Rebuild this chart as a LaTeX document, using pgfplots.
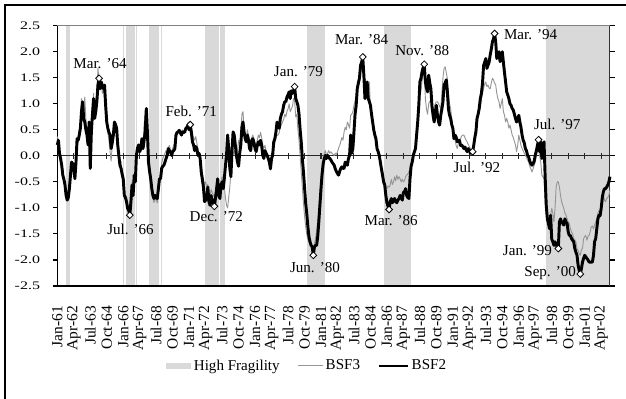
\documentclass[border=0pt]{standalone}
\usepackage{pgfplots}
\pgfplotsset{compat=1.18}
\usepackage{fontspec}
\setmainfont{Liberation Serif}
\definecolor{hfgray}{RGB}{217,217,217}
\definecolor{bsfthree}{RGB}{150,150,150}
\begin{document}
\begin{tikzpicture}
\path[use as bounding box] (0,0) rectangle (469.5pt,299.25pt);
\draw[line width=1.1pt] (3.75pt,-5pt) -- (3.75pt,295.5pt) -- (480pt,295.5pt);
\begin{axis}[
  at={(42.98pt,84.75pt)}, anchor=south west,
  scale only axis, width=414.5pt, height=195.2pt,
  xmin=0, xmax=503, ymin=-2.5, ymax=2.5, clip=false,
  axis line style={draw=none},
  tick align=outside, major tick length=3.4pt,
  ytick={-2.5,-2,-1.5,-1,-0.5,0,0.5,1,1.5,2,2.5},
  y tick style={black, line width=0.8pt},
  yticklabel style={/pgf/number format/fixed, /pgf/number format/fixed zerofill,
    /pgf/number format/precision=1, /pgf/number format/assume math mode=true,
    font=\fontsize{12}{12}\selectfont, xshift=-6pt, yscale=0.72, anchor=east},
  xtick={0,15,...,495},
  xticklabels={Jan-61,Apr-62,Jul-63,Oct-64,Jan-66,Apr-67,Jul-68,Oct-69,Jan-71,Apr-72,Jul-73,Oct-74,Jan-76,Apr-77,Jul-78,Oct-79,Jan-81,Apr-82,Jul-83,Oct-84,Jan-86,Apr-87,Jul-88,Oct-89,Jan-91,Apr-92,Jul-93,Oct-94,Jan-96,Apr-97,Jul-98,Oct-99,Jan-01,Apr-02},
  x tick style={draw=none},
  xticklabel style={yshift=-11.5pt, rotate=90, anchor=east, inner sep=0pt, font=\fontsize{11.6}{12}\selectfont},
  legend style={draw=none, fill=none, at={(0.4527,-0.307)}, anchor=center,
    legend columns=-1, font=\fontsize{11.3}{12}\selectfont,
    /tikz/every even column/.append style={column sep=11pt}},
]
% high-fragility periods
\addplot[fill=hfgray, draw=none, legend image code/.code={\fill[hfgray] (0pt,-2.25pt) rectangle (18.75pt,2.25pt);}]
  coordinates {(7.5,-2.5)(11.5,-2.5)(11.5,2.5)(7.5,2.5)} -- cycle;
\addlegendentry{High Fragility}
\addplot[fill=hfgray, draw=none, forget plot] coordinates {(59.5,-2.5)(60.5,-2.5)(60.5,2.5)(59.5,2.5)} -- cycle;
\addplot[fill=hfgray, draw=none, forget plot] coordinates {(62.5,-2.5)(70.5,-2.5)(70.5,2.5)(62.5,2.5)} -- cycle;
\addplot[fill=hfgray, draw=none, forget plot] coordinates {(71.5,-2.5)(72.5,-2.5)(72.5,2.5)(71.5,2.5)} -- cycle;
\addplot[fill=hfgray, draw=none, forget plot] coordinates {(83.5,-2.5)(92.5,-2.5)(92.5,2.5)(83.5,2.5)} -- cycle;
\addplot[fill=hfgray, draw=none, forget plot] coordinates {(94.5,-2.5)(95.5,-2.5)(95.5,2.5)(94.5,2.5)} -- cycle;
\addplot[fill=hfgray, draw=none, forget plot] coordinates {(134.5,-2.5)(147.5,-2.5)(147.5,2.5)(134.5,2.5)} -- cycle;
\addplot[fill=hfgray, draw=none, forget plot] coordinates {(148.5,-2.5)(152.5,-2.5)(152.5,2.5)(148.5,2.5)} -- cycle;
\addplot[fill=hfgray, draw=none, forget plot] coordinates {(227.5,-2.5)(243.5,-2.5)(243.5,2.5)(227.5,2.5)} -- cycle;
\addplot[fill=hfgray, draw=none, forget plot] coordinates {(297.5,-2.5)(321.5,-2.5)(321.5,2.5)(297.5,2.5)} -- cycle;
\addplot[fill=hfgray, draw=none, forget plot] coordinates {(444.5,-2.5)(503,-2.5)(503,2.5)(444.5,2.5)} -- cycle;

% plot frame and zero line with its ticks
\draw[black, line width=1.2pt] (rel axis cs:0,1) -- (rel axis cs:0,0) -- (rel axis cs:1,0);
\draw[gray, line width=0.75pt] (rel axis cs:0,1) -- (rel axis cs:1,1);
\draw[black!80, line width=0.75pt] (rel axis cs:1,1) -- (rel axis cs:1,0);
\draw[black!85, line width=0.8pt] (axis cs:0,0) -- (axis cs:503,0);
\pgfplotsinvokeforeach{15,30,...,495}{\draw[black!85, line width=0.8pt] ([yshift=-2.2pt]axis cs:#1,0) -- ([yshift=2.4pt]axis cs:#1,0);}

% BSF3
\addplot[bsfthree, line width=0.7pt, line join=round, legend image code/.code={\draw[bsfthree, line width=0.75pt] (0pt,0pt) -- (18.75pt,0pt);}] coordinates {
(0,0.37)(1,0.30)(2,0.10)(3,-0.05)(4,-0.18)(5,-0.40)(6,-0.50)(7,-0.60)(8,-0.70)(9,-0.80)(10,-0.75)(11,-0.50)(12,-0.30)(13,-0.15)(14,-0.20)(15,-0.30)(16,-0.35)(17,-0.05)(18,0.30)(19,0.25)(20,0.50)(21,0.60)(22,1.10)(23,0.90)(24,0.80)(25,1.13)(26,0.70)(27,0.50)(28,0.30)(29,0.60)(30,0.20)(31,0.50)(32,0.90)(33,1.20)(34,0.85)(35,1.00)(36,1.20)(37,1.68)(38,1.45)(39,1.35)(40,1.40)(41,1.20)(42,1.30)(43,1.10)(44,0.80)(45,0.60)(46,0.45)(47,0.30)(48,0.10)(49,-0.10)(50,0.20)(51,0.45)(52,0.60)(53,0.50)(54,0.40)(55,0.10)(56,-0.05)(57,-0.20)(58,-0.10)(59,-0.40)(60,-0.60)(61,-0.75)(62,-0.85)(63,-0.95)(64,-1.00)(65,-0.95)(66,-1.00)(67,-0.80)(68,-0.50)(69,-0.70)(70,-0.35)(71,-0.45)(72,0.05)(73,0.15)(74,0.20)(75,0.10)(76,0.20)(77,0.30)(78,0.20)(79,0.60)(80,0.80)(81,0.90)(82,0.40)(83,0.00)(84,-0.30)(85,-0.55)(86,-0.70)(87,-0.80)(88,-0.90)(89,-0.80)(90,-0.85)(91,-0.90)(92,-0.70)(93,-0.50)(94,-0.30)(95,-0.15)(96,-0.05)(97,0.00)(98,0.05)(99,0.10)(100,0.05)(101,0.15)(102,0.20)(103,0.10)(104,0.05)(105,0.15)(106,0.20)(107,0.25)(108,0.45)(109,0.40)(110,0.50)(111,0.45)(112,0.40)(113,0.45)(114,0.50)(115,0.45)(116,0.50)(117,0.55)(118,0.50)(119,0.65)(120,0.55)(121,0.58)(122,0.50)(123,0.40)
(124,0.35)(125,0.30)(126,0.37)(127,0.25)(128,0.10)(129,0.05)(130,-0.05)(131,-0.20)(132,-0.35)(133,-0.45)(134,-0.55)(135,-0.50)(136,-0.60)(137,-0.55)(138,-0.70)(139,-0.75)(140,-0.65)(141,-0.70)(142,-0.75)(143,-0.80)(144,-0.70)(145,-0.55)(146,-0.45)(147,-0.60)(148,-0.65)(149,-0.50)(150,-0.40)(151,-0.50)(152,-0.60)(153,-0.80)(154,-0.95)(155,-1.00)(156,-0.80)(157,-0.60)(158,-0.30)(159,-0.10)(160,0.05)(161,0.10)(162,0.00)(163,-0.05)(164,0.10)(165,0.30)(166,0.20)(167,0.40)(168,0.80)(169,0.85)(170,0.50)(171,0.40)(172,0.35)(173,0.50)(174,0.40)(175,0.30)(176,0.25)(177,0.35)(178,0.40)(179,0.30)(180,0.25)(181,0.20)(182,0.30)(183,0.40)(184,0.35)(185,0.45)(186,0.35)(187,0.20)(188,0.15)(189,0.20)(190,0.10)(191,0.05)(192,0.00)(193,-0.10)(194,-0.20)(195,-0.05)(196,0.05)(197,0.20)(198,0.25)(199,0.35)(200,0.40)(201,0.40)(202,0.45)(203,0.55)(204,0.60)(205,0.65)(206,0.70)(207,0.80)(208,0.75)(209,0.85)(210,0.90)(211,1.00)(212,0.85)(213,0.90)(214,0.95)(215,1.10)(216,1.05)(217,0.75)(218,0.80)(219,0.50)(220,0.30)(221,0.00)(222,-0.30)(223,-0.60)(224,-0.90)(225,-1.15)(226,-1.35)(227,-1.50)(228,-1.60)(229,-1.65)(230,-1.70)(231,-1.72)(232,-1.75)(233,-1.78)(234,-1.70)(235,-1.60)(236,-1.45)(237,-1.25)(238,-1.00)(239,-0.70)(240,-0.40)(241,-0.20)(242,-0.05)(243,0.05)(244,0.10)(245,0.00)(246,0.05)(247,0.10)(248,0.05)
(249,0.08)(250,0.05)(251,0.03)(252,0.01)(253,0.05)(254,0.03)(255,0.08)(256,0.15)(257,0.20)(258,0.27)(259,0.35)(260,0.30)(261,0.46)(262,0.55)(263,0.50)(264,0.65)(265,0.60)(266,0.53)(267,0.78)(268,0.80)(269,0.85)(270,0.97)(271,1.05)(272,1.15)(273,1.29)(274,1.40)(275,1.50)(276,1.62)(277,1.65)(278,1.68)(279,1.42)(280,1.50)(281,1.40)(282,1.10)(283,1.30)(284,1.42)(285,0.91)(286,0.75)(287,0.60)(288,0.46)(289,0.35)(290,0.25)(291,0.14)(292,0.05)(293,-0.02)(294,-0.12)(295,-0.20)(296,-0.30)(297,-0.44)(298,-0.50)(299,-0.58)(300,-0.63)(301,-0.58)(302,-0.60)(303,-0.56)(304,-0.45)(305,-0.55)(306,-0.50)(307,-0.40)(308,-0.48)(309,-0.37)(310,-0.45)(311,-0.40)(312,-0.44)(313,-0.50)(314,-0.45)(315,-0.50)(316,-0.48)(317,-0.40)(318,-0.37)(319,-0.35)(320,-0.30)(321,-0.24)(322,-0.15)(323,-0.05)(324,0.01)(325,0.10)(326,0.20)(327,0.35)(328,0.60)(329,0.85)(330,1.15)(331,1.25)(332,1.45)(333,1.55)(334,1.62)(335,1.10)(336,0.90)(337,0.80)(338,1.00)(339,1.05)(340,1.04)(341,0.95)(342,0.91)(343,0.95)(344,1.00)(345,1.04)(346,1.04)(347,1.00)(348,0.95)(349,0.91)(350,1.20)(351,1.50)(352,1.68)(353,1.71)(354,1.60)(355,1.49)(356,1.20)(357,1.00)(358,0.91)(359,0.70)(360,0.55)(361,0.46)(362,0.30)(363,0.20)(364,0.14)(365,0.25)(366,0.30)(367,0.33)(368,0.38)(369,0.40)(370,0.40)(371,0.35)(372,0.30)(373,0.27)(374,0.22)(375,0.18)(376,0.14)
(377,0.08)(378,0.10)(379,0.25)(380,0.45)(381,0.55)(382,0.65)(383,0.80)(384,0.88)(385,0.95)(386,1.10)(387,1.20)(388,1.30)(389,1.38)(390,1.42)(391,1.33)(392,1.36)(393,1.30)(394,1.29)(395,1.40)(396,1.49)(397,1.46)(398,1.40)(399,1.36)(400,1.20)(401,1.10)(402,1.04)(403,0.91)(404,1.00)(405,1.10)(406,0.85)(407,0.78)(408,0.65)(409,0.72)(410,0.65)(411,0.53)(412,0.59)(413,0.50)(414,0.40)(415,0.35)(416,0.28)(417,0.21)(418,0.08)(419,0.20)(420,0.40)(421,0.30)(422,0.20)(423,0.14)(424,0.10)(425,0.05)(426,0.01)(427,-0.03)(428,-0.08)(429,-0.12)(430,-0.20)(431,-0.25)(432,-0.31)(433,-0.25)(434,-0.18)(435,-0.12)(436,0.01)(437,0.10)(438,0.14)(439,0.00)(440,-0.12)(441,-0.37)(442,-0.40)(443,-0.44)(444,-0.88)(445,-1.10)(446,-1.21)(447,-1.27)(448,-1.20)(449,-1.14)(450,-1.01)(451,-1.10)(452,-1.27)(453,-1.01)(454,-0.60)(455,-0.50)(456,-0.50)(457,-0.60)(458,-0.76)(459,-0.88)(460,-0.95)(461,-1.01)(462,-1.10)(463,-1.14)(464,-1.21)(465,-1.27)(466,-1.30)(467,-1.40)(468,-1.46)(469,-1.50)(470,-1.59)(471,-1.62)(472,-1.65)(473,-1.78)(474,-1.82)(475,-1.88)(476,-1.91)(477,-1.80)(478,-1.78)(479,-1.59)(480,-1.55)(481,-1.53)(482,-1.62)(483,-1.55)(484,-1.53)(485,-1.46)(486,-1.36)(487,-1.35)(488,-1.40)(489,-1.33)(490,-1.27)(491,-1.21)(492,-1.10)(493,-1.05)(494,-1.10)(495,-1.01)(496,-0.95)(497,-0.76)(498,-0.85)(499,-0.88)(500,-0.82)(501,-0.80)(502,-0.76)(503,-0.65)
};
\addlegendentry{BSF3}

% BSF2
\addplot[black, line width=2.2pt, line join=round, legend image code/.code={\draw[black, line width=2pt] (0pt,0pt) -- (21.75pt,0pt);}] coordinates {
(0,0.21)(1,0.30)(2,0.05)(3,-0.05)(4,-0.18)(5,-0.37)(6,-0.45)(7,-0.56)(8,-0.76)(9,-0.85)(10,-0.80)(11,-0.63)(12,-0.37)(13,-0.12)(14,-0.15)(15,-0.24)(16,-0.44)(17,-0.12)(18,0.33)(19,0.30)(20,0.40)(21,0.53)(22,0.85)(23,1.04)(24,0.72)(25,0.65)(26,0.50)(27,0.40)(28,0.21)(29,0.65)(30,-0.24)(31,0.46)(32,0.80)(33,1.10)(34,0.72)(35,0.85)(36,1.04)(37,1.36)(38,1.49)(39,1.29)(40,1.42)(41,1.35)(42,1.29)(43,1.36)(44,0.97)(45,0.65)(46,0.53)(47,0.45)(48,0.40)(49,0.14)(50,0.25)(51,0.40)(52,0.65)(53,0.60)(54,0.53)(55,0.21)(56,0.01)(57,-0.18)(58,-0.24)(59,-0.35)(60,-0.44)(61,-0.76)(62,-0.80)(63,-0.88)(64,-1.01)(65,-1.05)(66,-1.14)(67,-0.88)(68,-0.56)(69,-0.76)(70,-0.37)(71,-0.50)(72,0.01)(73,0.15)(74,0.21)(75,0.08)(76,0.14)(77,0.33)(78,0.14)(79,0.30)(80,0.46)(81,0.91)(82,0.46)(83,-0.12)(84,-0.30)(85,-0.44)(86,-0.63)(87,-0.76)(88,-0.82)(89,-0.76)(90,-0.80)(91,-0.82)(92,-0.63)(93,-0.44)(94,-0.44)(95,-0.24)(96,-0.20)(97,-0.18)(98,-0.12)(99,-0.05)(100,0.01)(101,0.14)(102,0.10)(103,0.08)(104,0.01)(105,0.08)(106,0.10)(107,0.14)(108,0.40)(109,0.45)(110,0.46)(111,0.49)(112,0.45)(113,0.40)(114,0.46)(115,0.45)(116,0.46)(117,0.53)(118,0.55)(119,0.59)(120,0.50)(121,0.60)(122,0.46)(123,0.27)
(124,0.21)(125,0.10)(126,0.18)(127,0.14)(128,0.01)(129,0.05)(130,-0.05)(131,-0.31)(132,-0.45)(133,-0.60)(134,-0.88)(135,-0.85)(136,-0.82)(137,-0.60)(138,-0.88)(139,-0.95)(140,-0.76)(141,-0.90)(142,-0.85)(143,-0.97)(144,-0.80)(145,-0.63)(146,-0.44)(147,-0.76)(148,-0.82)(149,-0.56)(150,-0.50)(151,-0.63)(152,-0.44)(153,-0.20)(154,0.01)(155,0.40)(156,0.14)(157,-0.24)(158,-0.40)(159,0.10)(160,0.46)(161,0.40)(162,0.21)(163,0.01)(164,-0.12)(165,-0.20)(166,0.05)(167,0.21)(168,0.55)(169,0.65)(170,0.46)(171,0.33)(172,0.27)(173,0.40)(174,0.30)(175,0.14)(176,0.10)(177,0.30)(178,0.33)(179,0.25)(180,0.14)(181,0.08)(182,0.20)(183,0.27)(184,0.21)(185,0.30)(186,0.20)(187,0.01)(188,-0.05)(189,0.10)(190,0.05)(191,0.01)(192,-0.05)(193,-0.12)(194,-0.25)(195,-0.05)(196,0.01)(197,0.27)(198,0.33)(199,0.46)(200,0.65)(201,0.55)(202,0.53)(203,0.72)(204,0.80)(205,0.85)(206,0.97)(207,1.04)(208,1.04)(209,1.13)(210,1.17)(211,1.23)(212,1.10)(213,1.25)(214,1.20)(215,1.25)(216,1.33)(217,1.10)(218,1.04)(219,0.97)(220,0.80)(221,0.50)(222,0.27)(223,-0.05)(224,-0.30)(225,-0.60)(226,-0.90)(227,-1.10)(228,-1.35)(229,-1.55)(230,-1.65)(231,-1.72)(232,-1.75)(233,-1.91)(234,-1.75)(235,-1.72)(236,-1.72)(237,-1.55)(238,-1.27)(239,-0.95)(240,-0.63)(241,-0.35)(242,-0.15)(243,-0.05)(244,0.01)(245,-0.05)(246,0.01)(247,-0.03)(248,-0.05)(249,-0.08)
(250,-0.12)(251,-0.15)(252,-0.18)(253,-0.25)(254,-0.30)(255,-0.34)(256,-0.37)(257,-0.30)(258,-0.24)(259,-0.21)(260,-0.24)(261,-0.24)(262,-0.12)(263,-0.15)(264,-0.18)(265,-0.05)(266,0.01)(267,0.40)(268,0.05)(269,0.14)(270,0.46)(271,0.80)(272,0.97)(273,1.29)(274,1.40)(275,1.49)(276,1.74)(277,1.80)(278,1.90)(279,1.55)(280,1.10)(281,1.29)(282,1.42)(283,1.10)(284,1.04)(285,0.97)(286,0.80)(287,0.65)(288,0.50)(289,0.40)(290,0.33)(291,0.14)(292,0.08)(293,0.01)(294,-0.12)(295,-0.25)(296,-0.37)(297,-0.50)(298,-0.56)(299,-0.76)(300,-0.90)(301,-0.97)(302,-1.03)(303,-0.88)(304,-0.82)(305,-0.90)(306,-0.85)(307,-0.82)(308,-0.88)(309,-0.90)(310,-0.85)(311,-0.82)(312,-0.76)(313,-0.80)(314,-0.85)(315,-0.70)(316,-0.69)(317,-0.63)(318,-0.76)(319,-0.80)(320,-0.82)(321,-0.44)(322,-0.20)(323,-0.12)(324,0.01)(325,0.08)(326,0.14)(327,0.40)(328,0.65)(329,0.97)(330,1.42)(331,1.49)(332,1.62)(333,1.70)(334,1.76)(335,1.42)(336,1.30)(337,1.23)(338,1.55)(339,1.40)(340,1.29)(341,0.95)(342,0.78)(343,0.65)(344,0.85)(345,0.97)(346,0.78)(347,0.65)(348,0.59)(349,0.78)(350,0.90)(351,1.04)(352,1.36)(353,1.40)(354,1.46)(355,1.23)(356,0.90)(357,0.78)(358,0.72)(359,0.60)(360,0.53)(361,0.33)(362,0.40)(363,0.36)(364,0.27)(365,0.30)(366,0.30)(367,0.20)(368,0.21)(369,0.18)(370,0.14)(371,0.17)(372,0.12)(373,0.08)(374,0.14)(375,0.10)(376,0.05)(377,0.10)
(378,0.08)(379,0.20)(380,0.35)(381,0.46)(382,0.72)(383,0.80)(384,0.91)(385,1.10)(386,1.20)(387,1.40)(388,1.74)(389,1.80)(390,1.87)(391,1.68)(392,1.74)(393,1.80)(394,1.94)(395,2.05)(396,2.19)(397,2.25)(398,2.35)(399,2.19)(400,1.87)(401,1.94)(402,2.00)(403,1.81)(404,1.90)(405,2.00)(406,1.80)(407,1.60)(408,1.42)(409,1.23)(410,1.17)(411,1.10)(412,1.00)(413,0.97)(414,0.91)(415,0.88)(416,0.80)(417,0.72)(418,0.65)(419,0.70)(420,0.78)(421,0.65)(422,0.55)(423,0.40)(424,0.30)(425,0.25)(426,0.14)(427,0.10)(428,0.01)(429,-0.02)(430,-0.10)(431,-0.15)(432,-0.18)(433,-0.15)(434,-0.10)(435,0.01)(436,0.10)(437,0.20)(438,0.31)(439,0.08)(440,0.27)(441,-0.05)(442,0.15)(443,0.27)(444,-0.40)(445,-0.95)(446,-1.21)(447,-1.30)(448,-1.40)(449,-1.14)(450,-1.60)(451,-1.65)(452,-1.72)(453,-1.65)(454,-1.70)(455,-1.75)(456,-1.78)(457,-1.27)(458,-1.21)(459,-1.27)(460,-1.30)(461,-1.33)(462,-1.21)(463,-1.27)(464,-1.30)(465,-1.46)(466,-1.53)(467,-1.53)(468,-1.59)(469,-1.62)(470,-1.65)(471,-1.78)(472,-1.85)(473,-1.91)(474,-2.10)(475,-2.20)(476,-2.27)(477,-2.17)(478,-2.04)(479,-1.97)(480,-1.91)(481,-1.94)(482,-1.97)(483,-2.00)(484,-2.04)(485,-2.04)(486,-2.04)(487,-2.04)(488,-1.91)(489,-1.65)(490,-1.59)(491,-1.40)(492,-1.21)(493,-1.14)(494,-1.15)(495,-1.01)(496,-0.80)(497,-0.69)(498,-0.63)(499,-0.63)(500,-0.60)(501,-0.56)(502,-0.50)(503,-0.40)
};
\addlegendentry{BSF2}

% turning points of BSF2
\addplot[only marks, mark=square*, mark size=1.8pt, forget plot,
  mark options={rotate=45, fill=white, draw=black, line width=0.6pt}] coordinates {
(38,1.49)(66,-1.14)(121,0.60)(143,-0.97)(216,1.33)(233,-1.91)(278,1.90)(302,-1.03)(334,1.76)(378,0.08)(398,2.35)(438,0.31)(456,-1.78)(476,-2.27)};

\begin{scope}[every node/.style={font=\fontsize{11.3}{12}\selectfont, inner sep=0pt}]
\node[anchor=base] at (axis cs:38.9,1.683) {Mar. ’64};
\node[anchor=base] at (axis cs:121.9,0.756) {Feb. ’71};
\node[anchor=base] at (axis cs:219.5,1.519) {Jan. ’79};
\node[anchor=base] at (axis cs:277.0,2.131) {Mar. ’84};
\node[anchor=base] at (axis cs:332.1,1.937) {Nov. ’88};
\node[anchor=base west] at (axis cs:406.4,2.244) {Mar. ’94};
\node[anchor=base] at (axis cs:455.0,0.513) {Jul. ’97};
\node[anchor=base] at (axis cs:66.6,-1.519) {Jul. ’66};
\node[anchor=base] at (axis cs:144.7,-1.269) {Dec. ’72};
\node[anchor=base] at (axis cs:234.5,-2.244) {Jun. ’80};
\node[anchor=base] at (axis cs:303.9,-1.346) {Mar. ’86};
\node[anchor=base] at (axis cs:381.9,-0.327) {Jul. ’92};
\node[anchor=base east] at (axis cs:450.4,-1.910) {Jan. ’99};
\node[anchor=base east] at (axis cs:472.2,-2.317) {Sep. ’00};
\end{scope}
\end{axis}
\end{tikzpicture}
\end{document}
